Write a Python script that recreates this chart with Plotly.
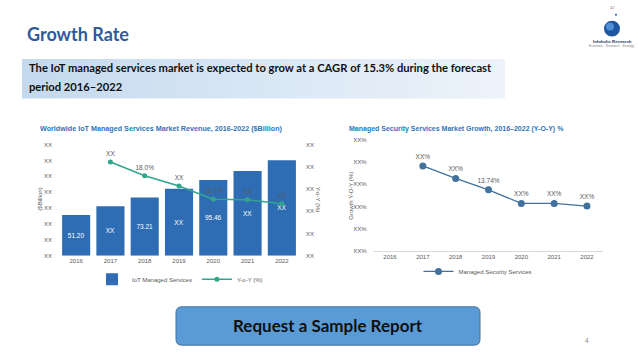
import plotly.graph_objects as go

W, H = 638, 359

# ---------------- data ----------------
years = ["2016", "2017", "2018", "2019", "2020", "2021", "2022"]
iot_revenue = [51.20, 62.4, 73.21, 84.3, 95.46, 106.6, 120.3]
iot_revenue_labels = ["51.20", "XX", "73.21", "XX", "95.46", "XX", "XX"]

yoy_years = ["2017", "2018", "2019", "2020", "2021", "2022"]
yoy_growth = [21.1, 18.0, 15.7, 12.7, 12.6, 11.7]
yoy_labels = ["XX", "18.0%", "XX", "12.7%", "XX", "XX"]

mss_years = ["2017", "2018", "2019", "2020", "2021", "2022"]
mss_growth = [19.1, 16.3, 13.74, 10.7, 10.7, 10.1]
mss_labels = ["XX%", "XX%", "13.74%", "XX%", "XX%", "XX%"]

left_ticks = [0, 20, 40, 60, 80, 100, 120, 140]
left_tick_labels = ["XX"] * 8
right_ticks = [0, 5, 10, 15, 20, 25]
right_tick_labels = ["XX"] * 6
mss_ticks = [0, 5, 10, 15, 20, 25]
mss_tick_labels = ["XX%"] * 6

# ---------------- helpers ----------------
def fx(px):
    return px / W

def fy(py):
    return 1 - py / H

CH = "Liberation Sans"
GRAY = "#595959"
BAR = "#2E6DB4"
TEAL = "#33A58C"
STEEL = "#41719C"

fig = go.Figure()

# decoration layer in pixel coordinates (subtitle gradient box)
bx0, bx1, by0, by1 = 22, 505, 57, 97
fig.add_trace(go.Scatter(
    x=[bx0, bx1, bx1, bx0, bx0], y=[by0, by0, by1, by1, by0],
    xaxis="x4", yaxis="y4", mode="lines", line=dict(width=0),
    fill="toself",
    fillgradient=dict(type="horizontal",
                      colorscale=[[0, "#C4D9EE"], [0.5, "#D9E7F5"], [1, "#EDF3FA"]]),
    hoverinfo="skip", showlegend=False))

# left chart: bars
fig.add_trace(go.Bar(
    x=years, y=iot_revenue, name="IoT Managed Services",
    marker=dict(color=BAR, line=dict(width=0)), width=0.82,
    text=iot_revenue_labels, textposition="inside", insidetextanchor="middle",
    textangle=0, textfont=dict(color="white", size=6.5, family=CH),
    xaxis="x", yaxis="y", legend="legend"))

# left chart: Y-o-Y line
fig.add_trace(go.Scatter(
    x=yoy_years, y=yoy_growth, name="Y-o-Y (%)",
    mode="lines+markers+text", line=dict(color=TEAL, width=1.6),
    marker=dict(color=TEAL, size=5),
    text=yoy_labels, textposition="top center",
    textfont=dict(color=GRAY, size=6.5, family=CH),
    xaxis="x", yaxis="y2", legend="legend"))

# right chart
fig.add_trace(go.Scatter(
    x=mss_years, y=mss_growth, name="Managed Security Services",
    mode="lines+markers+text", line=dict(color=STEEL, width=1.3),
    marker=dict(color=STEEL, size=7),
    text=mss_labels, textposition="top center",
    textfont=dict(color=GRAY, size=6.5, family=CH),
    xaxis="x3", yaxis="y3", legend="legend2"))

tickfont = dict(size=6, color=GRAY, family=CH)

# left plot area: x 59..299, y 144..257 px
fig.update_layout(
    xaxis=dict(domain=[fx(59), fx(299)], type="category", categoryorder="array",
               categoryarray=years, range=[-0.5, 6.5], showgrid=False, zeroline=False,
               showline=False, ticks="", tickfont=tickfont, anchor="y"),
    yaxis=dict(domain=[fy(257), fy(144)], range=[0, 140], tickvals=left_ticks,
               ticktext=left_tick_labels, showgrid=False, zeroline=False,
               tickfont=tickfont, ticklabelstandoff=6, anchor="x"),
    yaxis2=dict(overlaying="y", side="right", range=[0, 25], tickvals=right_ticks,
                ticktext=right_tick_labels, showgrid=False, zeroline=False,
                tickfont=tickfont, ticklabelstandoff=6, anchor="x"),
    xaxis3=dict(domain=[fx(373.6), fx(603.4)], type="category", categoryorder="array",
                categoryarray=years, range=[-0.5, 6.5], showgrid=False, zeroline=False,
                showline=True, linecolor="#D9D9D9", linewidth=1, ticks="",
                tickfont=tickfont, anchor="y3"),
    yaxis3=dict(domain=[fy(252.3), fy(139)], range=[0, 25], tickvals=mss_ticks,
                ticktext=mss_tick_labels, showgrid=False, zeroline=False,
                tickfont=tickfont, ticklabelstandoff=6, anchor="x3"),
    xaxis4=dict(domain=[0, 1], range=[0, W], visible=False, fixedrange=True, anchor="y4"),
    yaxis4=dict(domain=[0, 1], range=[H, 0], visible=False, fixedrange=True, anchor="x4"),
)

fig.update_layout(
    width=W, height=H, margin=dict(l=0, r=0, t=0, b=0),
    paper_bgcolor="white", plot_bgcolor="rgba(0,0,0,0)",
    bargap=0.18,
    legend=dict(orientation="h", x=fx(180), xanchor="center", y=fy(281), yanchor="middle",
                font=dict(size=6, color=GRAY, family=CH), bgcolor="rgba(0,0,0,0)",
                itemwidth=30, tracegroupgap=0),
    legend2=dict(orientation="h", x=fx(478), xanchor="center", y=fy(273), yanchor="middle",
                 font=dict(size=6, color=GRAY, family=CH), bgcolor="rgba(0,0,0,0)",
                 itemwidth=30),
)

# shapes: button, logo
x0, x1, y0, y1, r = 176, 480, 309, 348, 6
path = (f"M {x0+r},{y0} L {x1-r},{y0} Q {x1},{y0} {x1},{y0+r} L {x1},{y1-r} "
        f"Q {x1},{y1} {x1-r},{y1} L {x0+r},{y1} Q {x0},{y1} {x0},{y1-r} "
        f"L {x0},{y0+r} Q {x0},{y0} {x0+r},{y0} Z")
fig.add_shape(type="path", path=path, xref="x4", yref="y4",
              fillcolor="#5B9BD5", line=dict(color="#41719C", width=1), layer="below")
fig.add_shape(type="circle", xref="x4", yref="y4", x0=604, x1=620, y0=18, y1=34,
              fillcolor="#1F55A5", line=dict(width=0))
fig.add_shape(type="circle", xref="x4", yref="y4", x0=606, x1=614, y0=20, y1=28,
              fillcolor="#4F8FD8", line=dict(width=0))
fig.add_shape(type="circle", xref="x4", yref="y4", x0=615, x1=617, y0=11, y1=13,
              fillcolor="#1F55A5", line=dict(width=0))

ann = []
def add_text(x, y, text, size, color, family=CH, xanchor="left", bold=False, angle=0):
    t = f"<b>{text}</b>" if bold else text
    ann.append(dict(x=x, y=y, xref="x4", yref="y4", text=t, showarrow=False,
                    xanchor=xanchor, yanchor="middle", textangle=angle,
                    font=dict(size=size, color=color, family=family)))

add_text(25, 32, "Growth Rate", 18, "#2F5B9A", family="Lato", bold=True)
add_text(27, 66, "The IoT managed services market is expected to grow at a CAGR of 15.3% during the forecast",
         11.2, "#111111", family="Lato", bold=True)
add_text(27, 85, "period 2016–2022", 11.2, "#111111", family="Lato", bold=True)
add_text(38, 128, "Worldwide IoT Managed Services Market Revenue, 2016-2022 ($Billion)",
         7.2, "#2E75B6", bold=True)
add_text(347, 128, "Managed Security Services Market Growth, 2016–2022 (Y-O-Y) %",
         7.0, "#2E75B6", bold=True)
add_text(40, 200, "($Billion)", 6, GRAY, xanchor="center", angle=-90)
add_text(318, 200, "Y-o-Y (%)", 6, GRAY, xanchor="center", angle=90)
add_text(351, 196, "Growth Y-O-Y (%)", 6, GRAY, xanchor="center", angle=-90)
add_text(328, 328, "Request a Sample Report", 17, "#111111", family="Lato",
         xanchor="center", bold=True)
add_text(587, 343, "4", 6.5, "#8C8C8C", xanchor="center")
add_text(612, 39, "Infoholic Research", 4.3, "#1F3864", xanchor="center", bold=True)
add_text(612, 44, "Economic · Research · Strategy", 3.2, "#7F7F7F", xanchor="center")
add_text(612, 5, "42", 4, "#7F7F7F", xanchor="center")
fig.update_layout(annotations=ann)

fig.write_html("out.html", config={"displayModeBar": False},
               post_script="document.body.style.margin='0';")
